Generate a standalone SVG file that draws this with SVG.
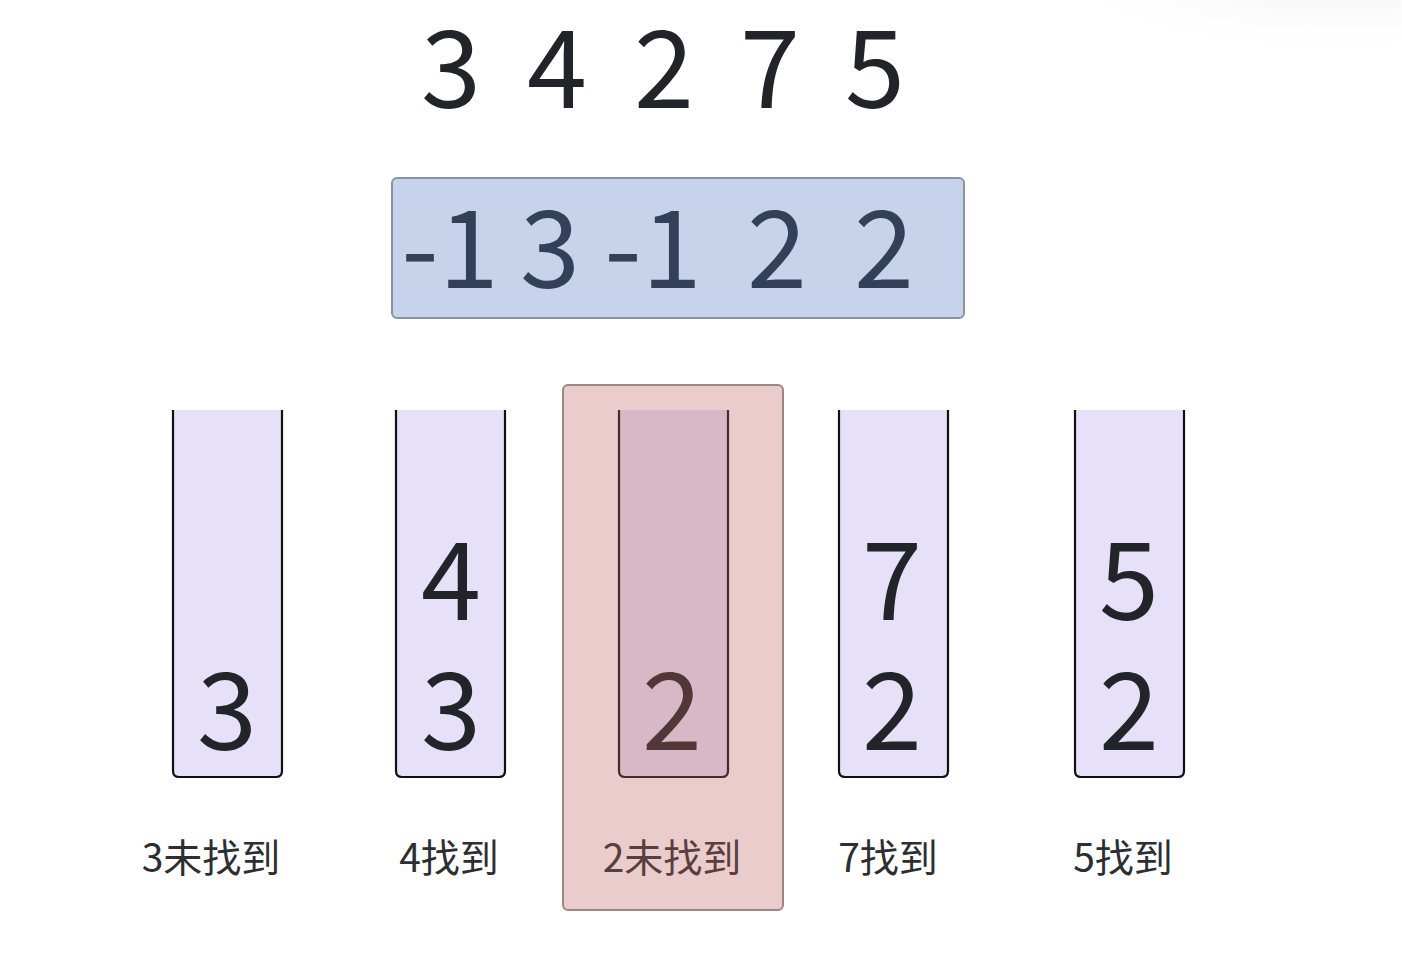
<svg xmlns="http://www.w3.org/2000/svg" width="1402" height="958" viewBox="0 0 1402 958">
<style>
.num{font-family:"Noto Sans CJK SC","Noto Sans",sans-serif;font-size:108px;fill:#212428;text-anchor:middle}
.lbl{font-family:"Noto Sans CJK SC","Noto Sans CJK JP",sans-serif;font-size:39px;fill:#2c2e32;text-anchor:middle}
.stackfill{fill:#e6e0f9}
.stackline{fill:none;stroke:#111;stroke-width:2.2}
</style>
<defs>
<radialGradient id="shade" cx="0.5" cy="0.5" r="0.5">
<stop offset="0" stop-color="#ececec" stop-opacity="0.9"/>
<stop offset="1" stop-color="#ffffff" stop-opacity="0"/>
</radialGradient>
</defs>
<rect width="1402" height="958" fill="#ffffff"/>
<ellipse cx="1330" cy="-30" rx="300" ry="90" fill="url(#shade)"/>

<g id="input">
<text class="num" x="451" y="108">3</text>
<text class="num" x="557" y="108">4</text>
<text class="num" x="664" y="108">2</text>
<text class="num" x="770" y="108">7</text>
<text class="num" x="875" y="108">5</text>
</g>

<g id="result">
<text class="num" x="450" y="288">-1</text>
<text class="num" x="550" y="288">3</text>
<text class="num" x="653" y="288">-1</text>
<text class="num" x="777" y="288">2</text>
<text class="num" x="884" y="288">2</text>
<rect x="392" y="178" width="572" height="140" rx="5" fill="rgb(86,120,190)" fill-opacity="0.33" stroke="#8a92a4" stroke-width="2"/>
</g>

<g id="stack1">
<rect class="stackfill" x="173" y="410" width="109" height="367" rx="5"/>
<rect class="stackfill" x="173" y="410" width="109" height="20"/>
<path class="stackline" d="M173,410 V771 Q173,777 179,777 H276 Q282,777 282,771 V410"/>
<text class="num" x="227" y="750">3</text>
<text class="lbl" x="211" y="872">3未找到</text>
</g>

<g id="stack2">
<rect class="stackfill" x="396" y="410" width="109" height="367" rx="5"/>
<rect class="stackfill" x="396" y="410" width="109" height="20"/>
<path class="stackline" d="M396,410 V771 Q396,777 402,777 H499 Q505,777 505,771 V410"/>
<text class="num" x="451" y="620">4</text>
<text class="num" x="451" y="750">3</text>
<text class="lbl" x="449" y="872">4找到</text>
</g>

<g id="stack3">
<rect class="stackfill" x="619" y="410" width="109" height="367" rx="5"/>
<rect class="stackfill" x="619" y="410" width="109" height="20"/>
<path class="stackline" d="M619,410 V771 Q619,777 625,777 H722 Q728,777 728,771 V410"/>
<text class="num" x="672" y="750">2</text>
<text class="lbl" x="672" y="872">2未找到</text>
</g>

<g id="stack4">
<rect class="stackfill" x="839" y="410" width="109" height="367" rx="5"/>
<rect class="stackfill" x="839" y="410" width="109" height="20"/>
<path class="stackline" d="M839,410 V771 Q839,777 845,777 H942 Q948,777 948,771 V410"/>
<text class="num" x="892" y="620">7</text>
<text class="num" x="892" y="750">2</text>
<text class="lbl" x="888" y="872">7找到</text>
</g>

<g id="stack5">
<rect class="stackfill" x="1075" y="410" width="109" height="367" rx="5"/>
<rect class="stackfill" x="1075" y="410" width="109" height="20"/>
<path class="stackline" d="M1075,410 V771 Q1075,777 1081,777 H1178 Q1184,777 1184,771 V410"/>
<text class="num" x="1129" y="620">5</text>
<text class="num" x="1129" y="750">2</text>
<text class="lbl" x="1123" y="872">5找到</text>
</g>

<g id="highlight">
<rect x="563" y="385" width="220" height="525" rx="5" fill="rgb(186,97,94)" fill-opacity="0.32" stroke="#a08585" stroke-width="2"/>
</g>
<g id="connectors"/>
</svg>
